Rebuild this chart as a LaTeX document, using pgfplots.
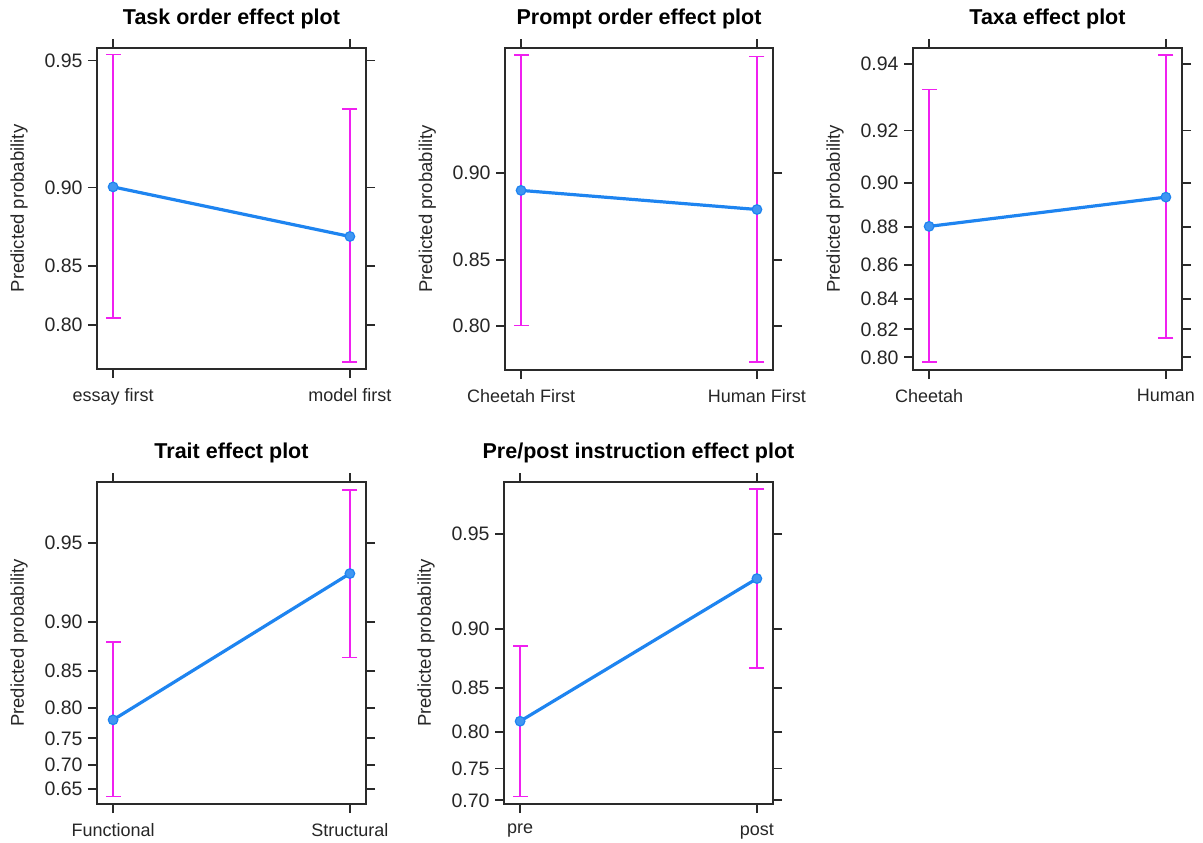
\documentclass[border=0pt]{standalone}
\usepackage{pgfplots}
\pgfplotsset{compat=1.18}
\usepackage{fontspec}
\setmainfont{Liberation Sans}
\definecolor{efblue}{HTML}{1E84F0}
\definecolor{efmag}{HTML}{F020F0}
\definecolor{efbox}{HTML}{2A2A2A}
\pgfplotsset{
  effect/.style={
    scale only axis, width=269pt, height=321pt, anchor=north west,
    y coord trafo/.code={\pgfmathparse{ln(##1/(1-##1))}},
    y coord inv trafo/.code={\pgfmathparse{1/(1+exp(-##1))}},
    xmin=-0.068, xmax=1.068, xtick={0,1},
    axis line style={efbox, line width=1.8pt},
    tick style={efbox, line width=1.8pt},
    major tick length=9pt,
    tick align=outside,
    xtick pos=both, ytick pos=both,
    xticklabel pos=lower, yticklabel pos=left,
    /pgf/number format/assume math mode=true,
    yticklabel style={font=\fontsize{19.5}{21}\selectfont, text=black!85, xshift=-2pt},
    xticklabel style={font=\fontsize{18}{20}\selectfont, text=black!85, yshift=-7pt},
    ylabel={Predicted probability},
    every axis y label/.style={at={(axis description cs:-0.29,0.5)}, rotate=90, anchor=center,
      font=\fontsize{18.5}{20}\selectfont, text=black!85},
    every axis title/.style={at={(axis description cs:0.5,1)}, anchor=center, yshift=29pt,
      font=\fontsize{21.5}{23}\selectfont\bfseries},
    clip=false,
  },
  ci/.style={efmag, line width=1.6pt, mark=-, mark size=7.5pt, mark options={efmag, line width=1.6pt}},
  est/.style={efblue, line width=3.2pt, mark=*, mark size=4.8pt, mark options={draw=efblue, fill=efblue!85!white, line width=1.2pt}},
}
\begin{document}
\begin{tikzpicture}
\useasboundingbox (0,0) rectangle (1203pt,-843pt);
% Panel 1
\begin{axis}[effect, at={(97pt,-48pt)}, width=269pt, height=321pt,
  title={Task order effect plot},
  ymin=0.7556, ymax=0.9534,
  ytick={0.80,0.85,0.90,0.95}, yticklabels={0.80,0.85,0.90,0.95},
  xticklabels={essay first,model first}]
\addplot[ci] coordinates {(0,0.8065) (0,0.9517)};
\addplot[ci] coordinates {(1,0.7632) (1,0.9345)};
\addplot[est] coordinates {(0,0.9003) (1,0.8709)};
\end{axis}
% Panel 2
\begin{axis}[effect, at={(505pt,-48pt)}, width=268pt, height=322pt,
  title={Prompt order effect plot},
  ymin=0.7598, ymax=0.9458,
  ytick={0.80,0.85,0.90}, yticklabels={0.80,0.85,0.90},
  xticklabels={Cheetah First,Human First}]
\addplot[ci] coordinates {(0,0.8003) (0,0.9438)};
\addplot[ci] coordinates {(1,0.7674) (1,0.9435)};
\addplot[est] coordinates {(0,0.8913) (1,0.8811)};
\end{axis}
% Panel 3
\begin{axis}[effect, at={(913pt,-48pt)}, width=269pt, height=322pt,
  title={Taxa effect plot},
  ymin=0.7904, ymax=0.9441,
  ytick={0.80,0.82,0.84,0.86,0.88,0.90,0.92,0.94},
  yticklabels={0.80,0.82,0.84,0.86,0.88,0.90,0.92,0.94},
  xticklabels={Cheetah,Human}]
\addplot[ci] coordinates {(0,0.7965) (0,0.9330)};
\addplot[ci] coordinates {(1,0.8138) (1,0.9424)};
\addplot[est] coordinates {(0,0.8804) (1,0.8940)};
\end{axis}
% Panel 4
\begin{axis}[effect, at={(97pt,-482pt)}, width=269pt, height=322pt,
  title={Trait effect plot},
  ymin=0.6172, ymax=0.9713,
  ytick={0.65,0.70,0.75,0.80,0.85,0.90,0.95},
  yticklabels={0.65,0.70,0.75,0.80,0.85,0.90,0.95},
  xticklabels={Functional,Structural}]
\addplot[ci] coordinates {(0,0.6339) (0,0.8820)};
\addplot[ci] coordinates {(1,0.8654) (1,0.9692)};
\addplot[est] coordinates {(0,0.7813) (1,0.9344)};
\end{axis}
% Panel 5
\begin{axis}[effect, at={(504pt,-482pt)}, width=269pt, height=322pt,
  title={Pre/post instruction effect plot},
  ymin=0.6940, ymax=0.9662,
  ytick={0.70,0.75,0.80,0.85,0.90,0.95},
  yticklabels={0.70,0.75,0.80,0.85,0.90,0.95},
  xticklabels={pre,post}]
\addplot[ci] coordinates {(0,0.7066) (0,0.8873)};
\addplot[ci] coordinates {(1,0.8689) (1,0.9643)};
\addplot[est] coordinates {(0,0.8131) (1,0.9304)};
\end{axis}
\end{tikzpicture}
\end{document}
